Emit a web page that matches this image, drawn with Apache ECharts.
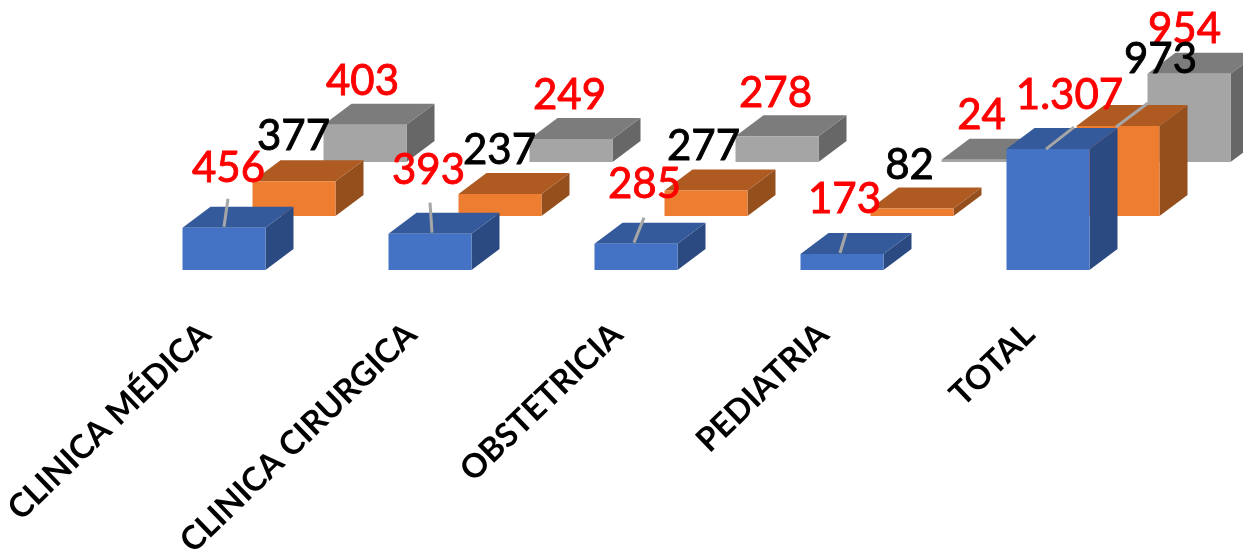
<!DOCTYPE html>
<html><head><meta charset="utf-8">
<style>html,body{margin:0;padding:0;background:#fff}#c{width:1243px;height:551px}</style>
<script src="https://cdn.jsdelivr.net/npm/echarts@6/dist/echarts.min.js"></script>
</head><body><div id="c"></div>
<script>
const categories = ['CLINICA MÉDICA','CLINICA CIRURGICA','OBSTETRICIA','PEDIATRIA','TOTAL'];
const blueValues = [456,393,285,173,1307];
const orangeValues = [377,237,277,82,973];
const grayValues = [403,249,278,24,954];

// Presentation only: faces, series offsets and hand placed data labels.
const BAR_W = 83, DEPTH_X = 28, DEPTH_Y = 21;
const styles = {
  blue:   {front:'#4472C4',top:'#345A9B',side:'#2B4A82',ox:0,  oy:0,  z:30,label:'#FF0000',
           lab:[[4.5,-59],[-1.5,-63],[8.5,-59],[2.5,-55],[21.5,-54]],
           lead:[[0,-1,4,-29],[2,-1,0,-31],[-2,-1,8,-26],[-2,-1,4,-21],[-2,0,26,-22]]},
  orange: {front:'#ED7D31',top:'#AE5A21',side:'#944F1D',ox:70, oy:-54,z:20,label:'#000000',
           lab:[[-0.5,-45],[-0.5,-44],[-2.5,-44],[-2.5,-43],[42.5,-67]],
           lead:[null,null,null,null,[-2,1,30,-23]]},
  gray:   {front:'#A5A5A5',top:'#7C7C7C',side:'#676767',ox:141,oy:-108,z:10,label:'#FF0000',
           lab:[[-2.5,-43],[-1.5,-44],[-1.5,-43],[-1.5,-44],[-4.5,-44]],
           lead:[null,null,null,null,null]}
};
function fmt(v){return String(v).replace(/\B(?=(\d{3})+$)/g,'.');}
function box(st){
  return function(params,api){
    const i=api.value(0), v=api.value(1);
    const top=api.coord([i,v]), base=api.coord([i,0]);
    const x0=top[0]-BAR_W/2+st.ox, x1=x0+BAR_W;
    const y0=top[1]+st.oy, y1=base[1]+st.oy;
    const shapes=[
      {type:'polygon',z2:st.z,shape:{points:[[x1,y0],[x1+DEPTH_X,y0-DEPTH_Y],[x1+DEPTH_X,y1-DEPTH_Y],[x1,y1]]},style:{fill:st.side}},
      {type:'polygon',z2:st.z,shape:{points:[[x0,y0],[x0+DEPTH_X,y0-DEPTH_Y],[x1+DEPTH_X,y0-DEPTH_Y],[x1,y0]]},style:{fill:st.top}},
      {type:'rect',z2:st.z+1,shape:{x:x0,y:y0,width:BAR_W,height:y1-y0},style:{fill:st.front}}
    ];
    const cx=(x0+x1)/2, l=st.lead[i], t=st.lab[i];
    if(l) shapes.push({type:'line',z2:50,shape:{x1:cx+l[0],y1:y0+l[1],x2:cx+l[2],y2:y0+l[3]},style:{stroke:'#A6A6A6',lineWidth:3}});
    shapes.push({type:'text',z2:100,x:cx+t[0],y:y0+t[1],style:{text:fmt(v),fill:st.label,stroke:st.label,lineWidth:0.9,
      font:'42px Lato',textAlign:'center',textVerticalAlign:'middle'}});
    return {type:'group',children:shapes};
  };
}
const toPairs=a=>a.map((v,i)=>[i,v]);
const chart=echarts.init(document.getElementById('c'),null,{renderer:'canvas'});
chart.setOption({
  animation:false,
  backgroundColor:'#fff',
  grid:{left:121,right:92,top:11,bottom:281,outerBoundsMode:'none'},
  xAxis:{type:'category',data:categories,axisLine:{show:false},axisTick:{show:false},
    axisLabel:{interval:0,rotate:44,margin:41,padding:[0,26,0,0],color:'#000',fontFamily:'Lato',fontWeight:700,fontSize:33}},
  yAxis:{type:'value',min:0,max:2800,show:false,splitLine:{show:false}},
  series:[
    {name:'Gray',type:'custom',data:toPairs(grayValues),renderItem:box(styles.gray),clip:false},
    {name:'Orange',type:'custom',data:toPairs(orangeValues),renderItem:box(styles.orange),clip:false},
    {name:'Blue',type:'custom',data:toPairs(blueValues),renderItem:box(styles.blue),clip:false}
  ]
});
</script></body></html>
